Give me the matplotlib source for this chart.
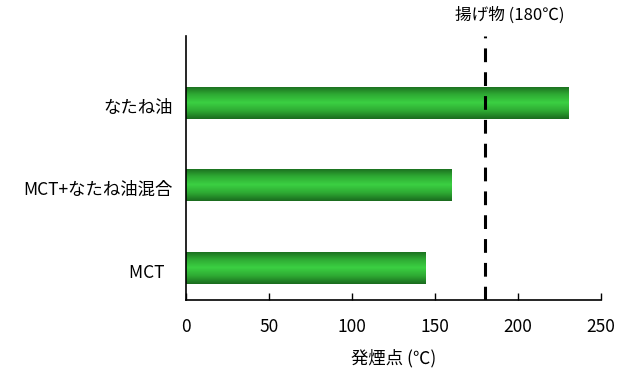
import numpy as np
import matplotlib
matplotlib.use("Agg")
import matplotlib.pyplot as plt
from matplotlib.colors import LinearSegmentedColormap
from matplotlib.transforms import ScaledTranslation

plt.rcParams['font.family'] = ['Noto Sans CJK JP', 'DejaVu Sans']

# Smoke points of each oil (deg C)
categories = ["MCT\u2002", "MCT+なたね油混合", "なたね油"]
smoke_points = [144, 160, 230]
frying_temp = 180
frying_label = "揚げ物 (180℃)"
xticks = [0, 50, 100, 150, 200, 250]
xlabel = "発煙点 (℃)"

fig = plt.figure(figsize=(6.26, 3.69), dpi=100)
ax = fig.add_axes([185.6 / 626, 1 - 300 / 369, 415.6 / 626, 264 / 369])

ypos = np.arange(len(categories))
bars = ax.barh(ypos, smoke_points, height=0.39, color="none", edgecolor="none")

# vertical green gradient: dark edges, bright centre
cmap = LinearSegmentedColormap.from_list(
    "bar_green", ["#1a6a1e", "#2eaa33", "#3bd042", "#2eaa33", "#1a6a1e"])
grad = np.linspace(0, 1, 256).reshape(-1, 1)
for b in bars:
    x0, y0 = b.get_x(), b.get_y()
    w, h = b.get_width(), b.get_height()
    im = ax.imshow(grad, cmap=cmap, aspect="auto",
                   extent=[x0, x0 + w, y0, y0 + h], zorder=2)
    im.set_clip_path(b)

ax.axvline(frying_temp, color="black", linewidth=2.2,
           linestyle=(0, (4.5, 3.3)), zorder=3)
ax.text(frying_temp + 15, 1.078, frying_label, transform=ax.get_xaxis_transform(),
        ha="center", va="center", fontsize=12)

ax.set_xlim(0, 250)
ax.set_ylim(-0.39, 2.81)
ax.set_xticks(xticks)
ax.set_xticklabels([str(t) for t in xticks], fontsize=12.5)
ax.tick_params(axis="x", direction="in", length=5, width=1, pad=13)
ax.set_yticks(ypos)
ax.set_yticklabels(categories, fontsize=12.5)
ax.tick_params(axis="y", length=0, pad=9)
for lbl in ax.get_yticklabels():
    lbl.set_transform(lbl.get_transform() + ScaledTranslation(0, -0.03, fig.dpi_scale_trans))
ax.set_xlabel(xlabel, fontsize=12.5, labelpad=9)

for s in ["top", "right"]:
    ax.spines[s].set_visible(False)
for s in ["left", "bottom"]:
    ax.spines[s].set_linewidth(1.2)

fig.savefig("out.png", dpi=100)
